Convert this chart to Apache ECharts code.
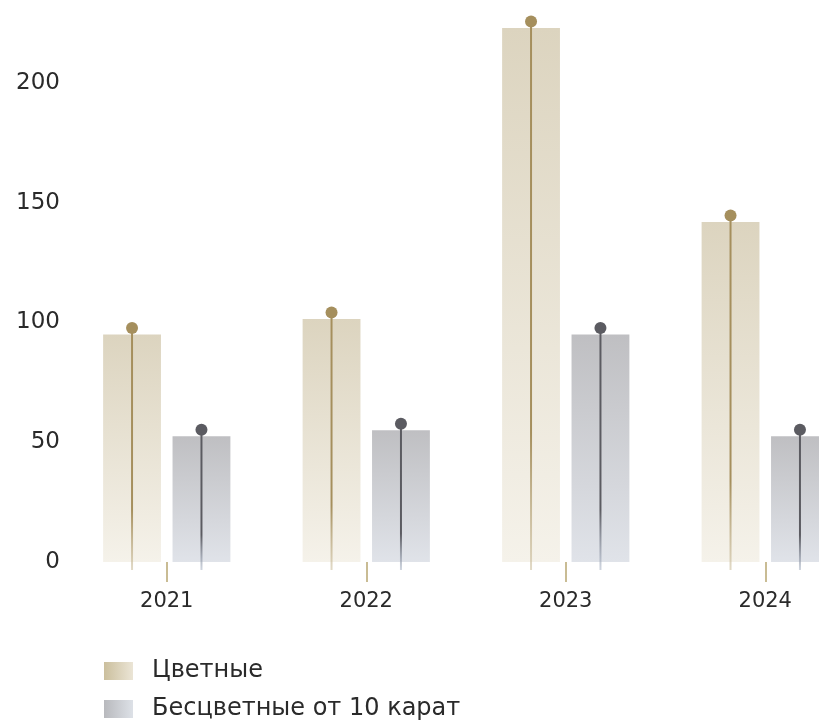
<!DOCTYPE html>
<html>
<head>
<meta charset="utf-8">
<script src="https://cdn.jsdelivr.net/npm/echarts@6/dist/echarts.min.js"></script>
<style>
html,body{margin:0;padding:0;background:#fff;}
#chart{width:819px;height:722px;}
</style>
</head>
<body>
<div id="chart"></div>
<script>
const years = ['2021', '2022', '2023', '2024'];
const coloredValues = [95, 101.5, 223, 142];
const colorlessValues = [52.5, 55, 95, 52.5];
const seriesNames = ['Цветные', 'Бесцветные от 10 карат'];
const yTicks = [0, 50, 100, 150, 200];

const FONT = 'DejaVu Sans';
const BAR_PCT = 0.29;
const GAP_PCT = 0.2;

function grad(top, bottom) {
  return new echarts.graphic.LinearGradient(0, 0, 0, 1, [
    { offset: 0, color: top }, { offset: 1, color: bottom }
  ]);
}
function hgrad(l, r) {
  return new echarts.graphic.LinearGradient(0, 0, 1, 0, [
    { offset: 0, color: l }, { offset: 1, color: r }
  ]);
}

function stemRenderer(sign, dotColor, stemTop, stemBottom) {
  return function (params, api) {
    const ci = api.value(0), v = api.value(1);
    const top = api.coord([ci, v]);
    const base = api.coord([ci, 0]);
    const band = api.size([1, 0])[0];
    const bw = band * BAR_PCT;
    const x = top[0] + sign * (bw + bw * GAP_PCT) / 2;
    const dy = top[1] - 6.5;
    return {
      type: 'group',
      children: [
        {
          type: 'line',
          shape: { x1: x, y1: dy, x2: x, y2: base[1] + 8 },
          style: {
            stroke: new echarts.graphic.LinearGradient(0, dy, 0, base[1] + 8, [
              { offset: 0, color: stemTop }, { offset: 0.75, color: stemTop }, { offset: 1, color: stemBottom }
            ], true),
            lineWidth: 2
          }
        },
        {
          type: 'circle',
          shape: { cx: x, cy: dy, r: 6 },
          style: { fill: dotColor }
        }
      ]
    };
  };
}

const chart = echarts.init(document.getElementById('chart'), null, { renderer: 'canvas' });
chart.setOption({
  animation: false,
  backgroundColor: '#ffffff',
  grid: { left: 67, top: -36.75, width: 798, height: 598.75, containLabel: false, outerBoundsMode: 'none' },
  legend: {
    orient: 'vertical',
    left: 104,
    top: 659,
    padding: 0,
    itemWidth: 29,
    itemHeight: 18,
    itemGap: 14,
    icon: 'rect',
    textStyle: { fontFamily: FONT, fontSize: 24, color: '#2a2a2a', padding: [0, 0, 0, 14], lineHeight: 22 },
    data: [
      { name: seriesNames[0], itemStyle: { color: hgrad('#cbbf9d', '#ebe5d6') } },
      { name: seriesNames[1], itemStyle: { color: hgrad('#b8b9bd', '#dde1e7') } }
    ]
  },
  xAxis: {
    type: 'category',
    data: years,
    boundaryGap: true,
    axisLine: { show: false },
    axisTick: { show: true, alignWithLabel: true, length: 20, lineStyle: { color: '#b8a672', width: 1.5 } },
    axisLabel: { fontFamily: FONT, fontSize: 21, color: '#2a2a2a', margin: 29 },
    splitLine: { show: false }
  },
  yAxis: {
    type: 'value',
    min: 0,
    max: 250,
    interval: 50,
    axisLine: { show: false },
    axisTick: { show: false },
    splitLine: { show: false },
    axisLabel: {
      fontFamily: FONT, fontSize: 23, color: '#2a2a2a', margin: 7,
      formatter: function (v) { return yTicks.indexOf(v) >= 0 ? String(v) : ''; }
    }
  },
  series: [
    {
      name: seriesNames[0],
      type: 'bar',
      barWidth: (BAR_PCT * 100) + '%',
      barGap: (GAP_PCT * 100) + '%',
      data: coloredValues,
      itemStyle: { color: grad('#dcd4bf', '#f5f2ea') },
      emphasis: { disabled: true }
    },
    {
      name: seriesNames[1],
      type: 'bar',
      barWidth: (BAR_PCT * 100) + '%',
      barGap: (GAP_PCT * 100) + '%',
      data: colorlessValues,
      itemStyle: { color: grad('#bfbfc2', '#e0e3e9') },
      emphasis: { disabled: true }
    },
    {
      name: 'stem-colored',
      type: 'custom',
      z: 5,
      silent: true,
      renderItem: stemRenderer(-1, '#a58f5d', '#a58f5d', 'rgba(205,192,160,0.6)'),
      data: coloredValues.map((v, i) => [i, v])
    },
    {
      name: 'stem-colorless',
      type: 'custom',
      z: 5,
      silent: true,
      renderItem: stemRenderer(1, '#5b5b61', '#5b5b61', 'rgba(175,185,202,0.6)'),
      data: colorlessValues.map((v, i) => [i, v])
    }
  ]
});
</script>
</body>
</html>
